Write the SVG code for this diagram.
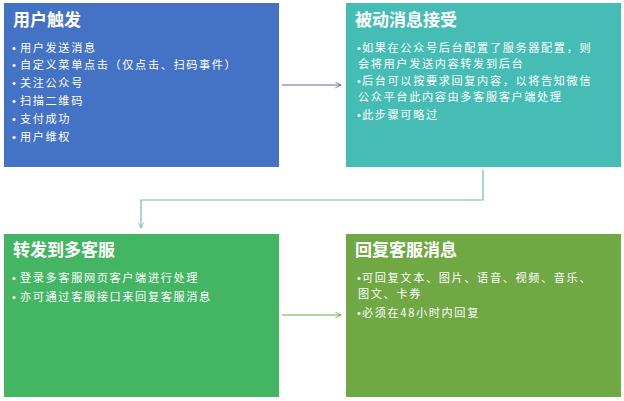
<svg xmlns="http://www.w3.org/2000/svg" width="624" height="401" viewBox="0 0 624 401">
<style>
.t{font-family:"Noto Sans CJK SC","Noto Sans",sans-serif;font-weight:bold;font-size:17px;fill:#fff}
.b{font-family:"Noto Sans CJK SC","Noto Sans",sans-serif;font-size:11.2px;letter-spacing:1.6px;fill:#fff}
.d{font-family:"Liberation Sans",sans-serif;font-size:11px;letter-spacing:0}
.c{fill:none;stroke-width:1.2}
</style>
<defs>
<marker id="ab" viewBox="0 0 10 10" refX="9" refY="5" markerWidth="7" markerHeight="7" orient="auto" markerUnits="userSpaceOnUse"><path d="M1,1 L9,5 L1,9" fill="none" stroke="#5a6aa8" stroke-width="1.2"/></marker>
<marker id="at" viewBox="0 0 10 10" refX="9" refY="5" markerWidth="7" markerHeight="7" orient="auto" markerUnits="userSpaceOnUse"><path d="M1,1 L9,5 L1,9" fill="none" stroke="#6bbfb5" stroke-width="1.2"/></marker>
<marker id="ag" viewBox="0 0 10 10" refX="9" refY="5" markerWidth="7" markerHeight="7" orient="auto" markerUnits="userSpaceOnUse"><path d="M1,1 L9,5 L1,9" fill="none" stroke="#6fa84a" stroke-width="1.2"/></marker>
</defs>
<rect width="624" height="401" fill="#fff"/>
<g id="n1">
<rect x="4" y="3" width="275" height="164" fill="#4472c4"/>
<text class="t" x="13" y="26">用户触发</text>
<text class="b" x="12" y="51.5"><tspan class="d">•</tspan><tspan x="20">用户发送消息</tspan></text>
<text class="b" x="12" y="69"><tspan class="d">•</tspan><tspan x="20">自定义菜单点击（仅点击、扫码事件）</tspan></text>
<text class="b" x="12" y="87"><tspan class="d">•</tspan><tspan x="20">关注公众号</tspan></text>
<text class="b" x="12" y="105"><tspan class="d">•</tspan><tspan x="20">扫描二维码</tspan></text>
<text class="b" x="12" y="123"><tspan class="d">•</tspan><tspan x="20">支付成功</tspan></text>
<text class="b" x="12" y="141"><tspan class="d">•</tspan><tspan x="20">用户维权</tspan></text>
</g>
<g id="n2">
<rect x="346" y="3" width="275" height="164" fill="#45bdb4"/>
<text class="t" x="355" y="26">被动消息接受</text>
<text class="b" x="357" y="52"><tspan class="d">•</tspan><tspan x="362">如果在公众号后台配置了服务器配置，则</tspan></text>
<text class="b" x="358" y="68.3">会将用户发送内容转发到后台</text>
<text class="b" x="357" y="85"><tspan class="d">•</tspan><tspan x="362">后台可以按要求回复内容，以将告知微信</tspan></text>
<text class="b" x="358" y="101.3">公众平台此内容由多客服客户端处理</text>
<text class="b" x="357" y="119"><tspan class="d">•</tspan><tspan x="362">此步骤可略过</tspan></text>
</g>
<g id="n3">
<rect x="4" y="234" width="275" height="163" fill="#43b563"/>
<text class="t" x="13" y="256">转发到多客服</text>
<text class="b" x="12" y="281.5"><tspan class="d">•</tspan><tspan x="20">登录多客服网页客户端进行处理</tspan></text>
<text class="b" x="12" y="300.5"><tspan class="d">•</tspan><tspan x="20">亦可通过客服接口来回复客服消息</tspan></text>
</g>
<g id="n4">
<rect x="346" y="234" width="275" height="163" fill="#70a844"/>
<text class="t" x="355" y="256">回复客服消息</text>
<text class="b" x="357" y="281.5"><tspan class="d">•</tspan><tspan x="362">可回复文本、图片、语音、视频、音乐、</tspan></text>
<text class="b" x="358" y="297.8">图文、卡券</text>
<text class="b" x="357" y="317"><tspan class="d">•</tspan><tspan x="362">必须在48小时内回复</tspan></text>
</g>
<g id="connectors">
<line class="c" x1="282" y1="85" x2="341" y2="85" stroke="#5a6aa8" marker-end="url(#ab)"/>
<polyline class="c" points="483,170 483,200 141,200 141,228" stroke="#6bbfb5" marker-end="url(#at)"/>
<line class="c" x1="282" y1="315" x2="341" y2="315" stroke="#6fa84a" marker-end="url(#ag)"/>
</g>
</svg>
